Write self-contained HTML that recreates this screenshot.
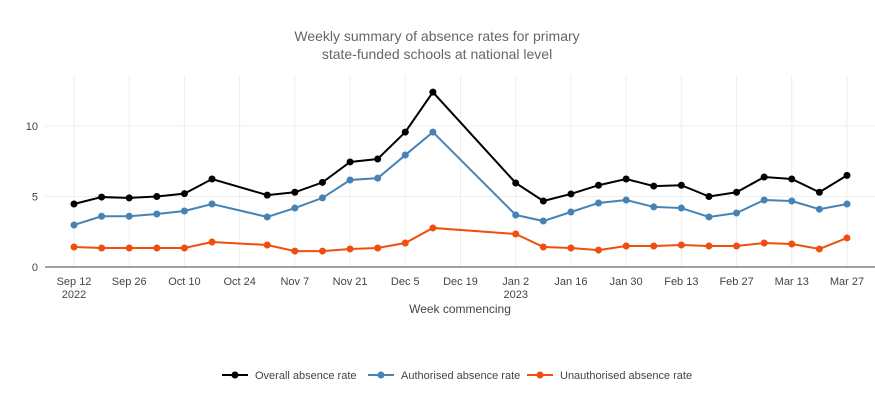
<!DOCTYPE html>
<html><head><meta charset="utf-8"><style>
body{margin:0;background:#fff;font-family:"Liberation Sans",sans-serif}
svg text{font-family:"Liberation Sans",sans-serif}
</style></head><body>
<svg id="chart" width="875" height="400">
<text x="437" y="41" text-anchor="middle" font-size="14" fill="#666">Weekly summary of absence rates for primary</text>
<text x="437" y="59" text-anchor="middle" font-size="14" fill="#666">state-funded schools at national level</text>
<g id="grid"></g><g id="series"></g>
<text x="460" y="313" text-anchor="middle" font-size="12" fill="#444">Week commencing</text>
<g id="legend"></g>
</svg>
<script>
const weeks=[0,1,2,3,4,5,7,8,9,10,11,12,13,16,17,18,19,20,21,22,23,24,25,26,27,28];
const overall=[4.47,4.96,4.9,5.0,5.2,6.24,5.1,5.3,6.0,7.45,7.66,9.57,12.4,5.96,4.68,5.18,5.8,6.24,5.74,5.8,5.0,5.3,6.38,6.24,5.3,6.5];
const authorised=[2.98,3.6,3.6,3.76,3.97,4.47,3.55,4.18,4.9,6.17,6.3,7.94,9.57,3.69,3.26,3.9,4.54,4.75,4.26,4.18,3.55,3.83,4.75,4.68,4.1,4.47];
const unauthorised=[1.42,1.35,1.35,1.35,1.35,1.77,1.56,1.13,1.13,1.28,1.35,1.7,2.77,2.34,1.42,1.35,1.2,1.49,1.49,1.56,1.49,1.49,1.7,1.63,1.28,2.06];
const tickWeeks=[0,2,4,6,8,10,12,14,16,18,20,22,24,26,28];
const tickLabels=["Sep 12","Sep 26","Oct 10","Oct 24","Nov 7","Nov 21","Dec 5","Dec 19","Jan 2","Jan 16","Jan 30","Feb 13","Feb 27","Mar 13","Mar 27"];
const yTicks=[0,5,10];
const NS="http://www.w3.org/2000/svg";
const X=w=>74+w*(847-74)/28, Y=v=>267-v*14.1;
function mk(t,a,p){const e=document.createElementNS(NS,t);for(const k in a)e.setAttribute(k,a[k]);p.appendChild(e);return e;}
const g=document.getElementById('grid');
tickWeeks.forEach((w,i)=>{
 const l=mk('line',{x1:X(w),x2:X(w),y1:75,y2:267,stroke:'#eee'},g);
 
 
 const t=mk('text',{x:X(w),y:285,'text-anchor':'middle','font-size':11,fill:'#444'},g);t.textContent=tickLabels[i];
 
 
});
[["2022",0],["2023",16]].forEach(([s,w])=>{const t=mk('text',{x:X(w),y:298,'text-anchor':'middle','font-size':11,fill:'#444'},g);t.textContent=s;
 
 });
yTicks.forEach(v=>{
 const l=mk('line',{x1:45,x2:875,y1:Y(v),y2:Y(v),stroke:v?'#eee':'#444'},g);
 
 
 const t=mk('text',{x:38,y:Y(v)+4,'text-anchor':'end','font-size':11,fill:'#444'},g);t.textContent=v;
 
 
});
const s=document.getElementById('series');
[[overall,'#000','overall'],[authorised,'#4682b4','authorised'],[unauthorised,'#f04e0f','unauthorised']].forEach(([d,c,n])=>{
 const p=mk('polyline',{points:d.map((v,i)=>X(weeks[i])+','+Y(v)).join(' '),fill:'none',stroke:c,'stroke-width':2},s);
 
 
 d.forEach((v,i)=>{const e=mk('circle',{cx:X(weeks[i]),cy:Y(v),r:3.5,fill:c},s);
  
  });
});
const lg=document.getElementById('legend');
[['Overall absence rate','#000',222],['Authorised absence rate','#4682b4',368],['Unauthorised absence rate','#f04e0f',527]].forEach(([t,c,x])=>{
 const gg=mk('g',{},lg);
 
 
 mk('line',{x1:x,x2:x+26,y1:375,y2:375,stroke:c,'stroke-width':2},gg);
 mk('circle',{cx:x+13,cy:375,r:3.5,fill:c},gg);
 const tx=mk('text',{x:x+33,y:379,'font-size':11,fill:'#444'},gg);tx.textContent=t;
});
</script>
</body></html>
